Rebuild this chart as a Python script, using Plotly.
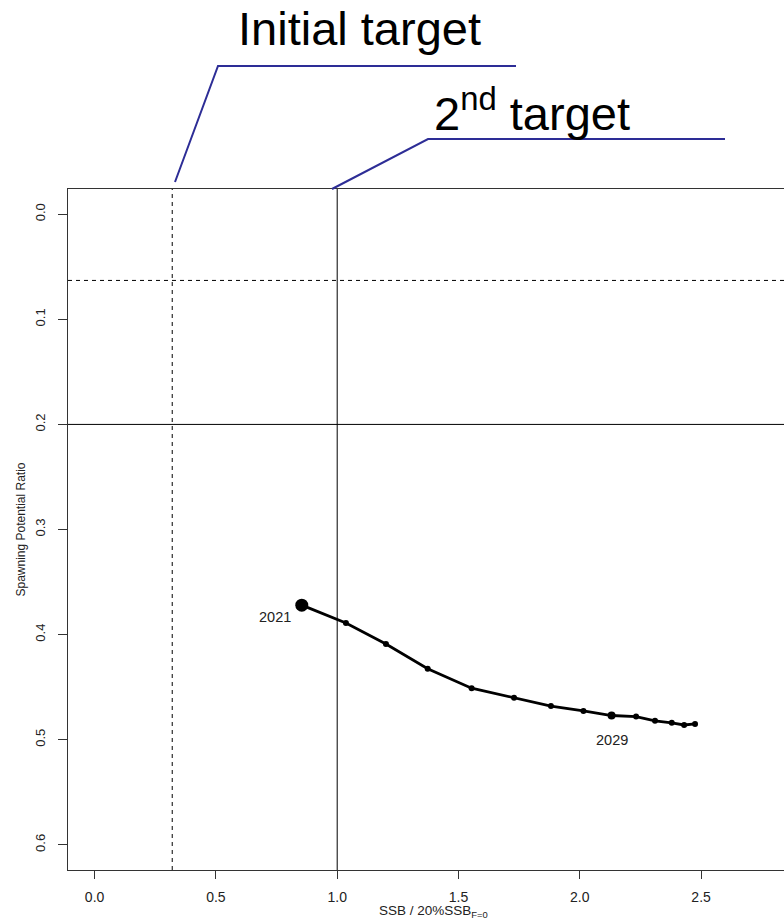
import plotly.graph_objects as go

# ---- data ----
years = list(range(2021, 2035))
ssb_ratio = [0.854, 1.036, 1.201, 1.373, 1.554, 1.729, 1.881, 2.015, 2.131, 2.232, 2.310, 2.379, 2.430, 2.475]
spr = [0.372, 0.389, 0.409, 0.4325, 0.451, 0.460, 0.468, 0.4727, 0.477, 0.478, 0.482, 0.484, 0.486, 0.485]
x_ticks = [0.0, 0.5, 1.0, 1.5, 2.0, 2.5]
y_ticks = [0.0, 0.1, 0.2, 0.3, 0.4, 0.5, 0.6]
initial_target_x = 0.32
second_target_x = 1.0
initial_target_y = 0.063
second_target_y = 0.2
labelled_years = [2021, 2029]

W, H = 784, 919
L, T, R_, B = 68, 189, 0, 49
PW, PH = W - L - R_, H - T - B


def py2paper(py):
    return (H - B - py) / PH


def px2paper(px):
    return (px - L) / PW


def xd(px):
    # reference pixel -> data x
    return (px - 94.6) / 242.6


FONT = "Liberation Sans, Arial, sans-serif"
BLUE = "#2d2d96"

sizes = [13 if y == 2021 else (8 if y == 2029 else 6) for y in years]

fig = go.Figure()
fig.add_trace(go.Scatter(
    x=ssb_ratio, y=spr, mode="lines+markers",
    line=dict(color="black", width=2.8),
    marker=dict(color="black", size=sizes, line=dict(width=0), opacity=1),
    showlegend=False, hoverinfo="skip", cliponaxis=False,
))

shapes = []
shapes.append(dict(type="line", xref="x", yref="paper", x0=initial_target_x, x1=initial_target_x,
                   y0=0, y1=1, line=dict(color="black", width=1, dash="4px,4px")))
shapes.append(dict(type="line", xref="x", yref="paper", x0=second_target_x, x1=second_target_x,
                   y0=0, y1=1, line=dict(color="black", width=1)))
shapes.append(dict(type="line", xref="paper", yref="y", x0=0, x1=1,
                   y0=initial_target_y, y1=initial_target_y, line=dict(color="black", width=1, dash="4px,4px")))
shapes.append(dict(type="line", xref="paper", yref="y", x0=0, x1=1,
                   y0=second_target_y, y1=second_target_y, line=dict(color="black", width=1)))

p1 = [(xd(175), py2paper(182)), (xd(218), py2paper(66)), (xd(516), py2paper(66))]
p2 = [(xd(332), py2paper(189)), (xd(428), py2paper(139)), (xd(725), py2paper(139))]
for pts in (p1, p2):
    path = "M " + " L ".join(f"{a},{b}" for a, b in pts)
    shapes.append(dict(type="path", xref="x", yref="paper", path=path,
                       line=dict(color=BLUE, width=2)))

annotations = []
for yr, xv, yv in zip(years, ssb_ratio, spr):
    if yr in labelled_years:
        if yr == 2021:
            xs, ys = -27, -12
        else:
            xs, ys = 0, -24
        annotations.append(dict(x=xv, y=yv, xref="x", yref="y", text=str(yr), showarrow=False,
                                xshift=xs, yshift=ys, font=dict(family=FONT, size=14.5, color="#222")))

annotations.append(dict(x=px2paper(236), y=py2paper(29), xref="paper", yref="paper",
                        text="Initial target", showarrow=False, xanchor="left", yanchor="middle",
                        font=dict(family=FONT, size=47, color="black")))
annotations.append(dict(x=px2paper(432), y=py2paper(110), xref="paper", yref="paper",
                        text="2<sup>nd</sup> target", showarrow=False, xanchor="left", yanchor="middle",
                        font=dict(family=FONT, size=47, color="black")))
annotations.append(dict(x=px2paper(433), y=py2paper(911), xref="paper", yref="paper",
                        text="SSB / 20%SSB<sub>F=0</sub>", showarrow=False, xanchor="center", yanchor="middle",
                        font=dict(family=FONT, size=13.5, color="#222")))

fig.update_layout(
    template="none",
    width=W, height=H,
    margin=dict(l=L, r=R_, t=T, b=B, pad=0),
    paper_bgcolor="white", plot_bgcolor="white",
    shapes=shapes, annotations=annotations,
    font=dict(family=FONT, size=13, color="#222"),
    xaxis=dict(range=[xd(68), xd(784)], tickvals=x_ticks, ticktext=[f"{v:.1f}" for v in x_ticks],
               showgrid=False, zeroline=False, showline=True, mirror=True, linecolor="#333", linewidth=1,
               ticks="outside", ticklen=8, tickcolor="#333", tickwidth=1, ticklabelstandoff=6,
               tickfont=dict(family=FONT, size=14, color="#222")),
    yaxis=dict(range=[0.624, -0.024], tickvals=y_ticks, ticktext=[f"{v:.1f}" for v in y_ticks],
               showgrid=False, zeroline=False, showline=True, linecolor="#333", linewidth=1,
               ticks="outside", ticklen=9, tickcolor="#333", tickwidth=1, tickangle=-90, ticklabelstandoff=8,
               tickfont=dict(family=FONT, size=13, color="#222"),
               title=dict(text="Spawning Potential Ratio", standoff=4,
                          font=dict(family=FONT, size=12, color="#222"))),
)

fig.write_html(
    "out.html",
    config={"displayModeBar": False},
    post_script="document.documentElement.style.margin='0';document.body.style.margin='0';"
                "document.documentElement.style.overflow='hidden';",
)
